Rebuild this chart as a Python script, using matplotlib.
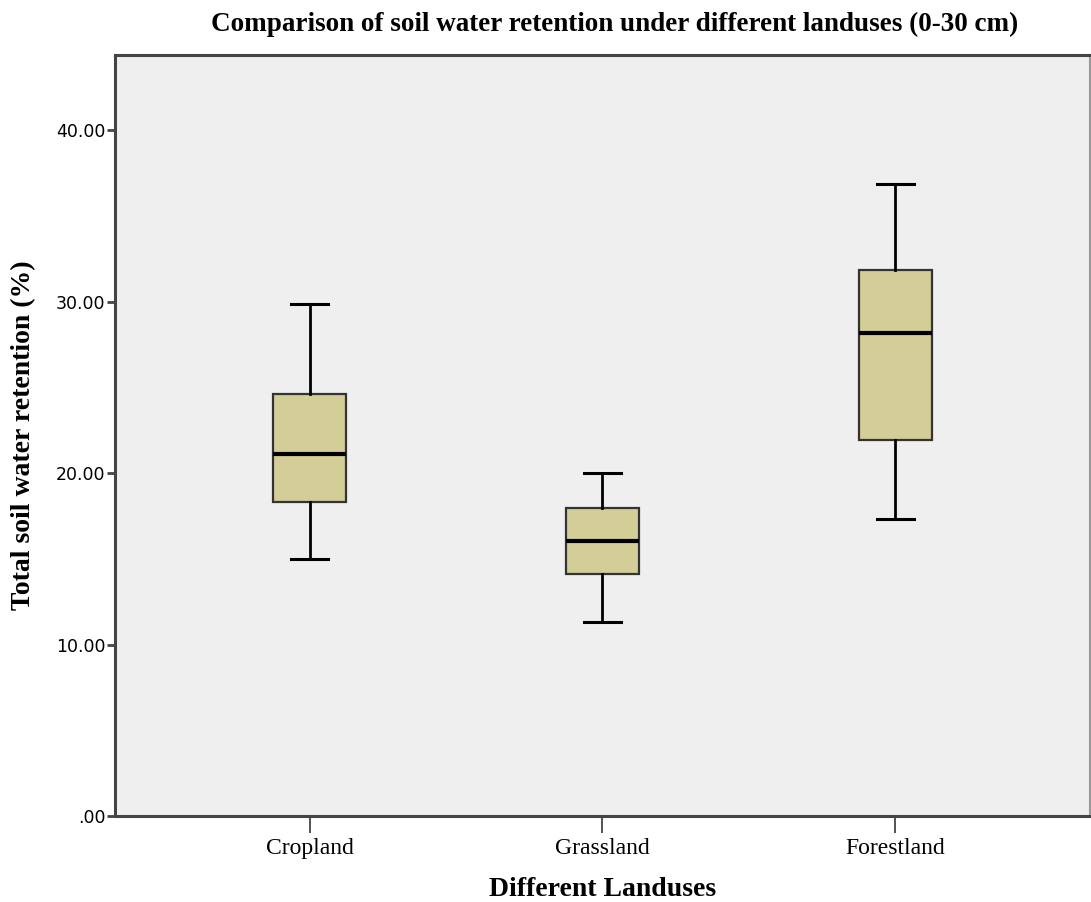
import matplotlib.pyplot as plt

# Box-plot summary values
landuses = ['Cropland', 'Grassland', 'Forestland']
whisker_low = [15.0, 11.35, 17.35]
q1 = [18.3, 14.15, 21.95]
median = [21.1, 16.05, 28.2]
q3 = [24.6, 17.95, 31.85]
whisker_high = [29.85, 20.0, 36.9]
y_ticks = [0, 10, 20, 30, 40]
y_tick_labels = ['.00', '10.00', '20.00', '30.00', '40.00']

serif = 'Liberation Serif'
sans = 'DejaVu Sans'

fig = plt.figure(figsize=(10.91, 9.02), dpi=100)
ax = fig.add_axes([0.1054, 0.0953, 0.8936, 0.8437])
ax.set_facecolor('#EFEFEF')

stats = []
for i, name in enumerate(landuses):
    stats.append({
        'label': name,
        'whislo': whisker_low[i],
        'q1': q1[i],
        'med': median[i],
        'q3': q3[i],
        'whishi': whisker_high[i],
        'fliers': [],
    })

ax.bxp(stats, positions=range(len(landuses)), widths=0.25, capwidths=0.125,
       patch_artist=True, showfliers=False,
       boxprops=dict(facecolor='#D3CE97', edgecolor='#333333', linewidth=1.6),
       medianprops=dict(color='black', linewidth=3),
       whiskerprops=dict(color='black', linewidth=2),
       capprops=dict(color='black', linewidth=2.2))

ax.set_xlim(-0.665, 2.665)
ax.set_ylim(0, 44.4)

ax.set_yticks(y_ticks)
ax.set_yticklabels(y_tick_labels, fontfamily=sans, fontsize=12.5)
ax.set_xticks(range(len(landuses)))
ax.set_xticklabels(landuses, fontfamily=serif, fontsize=17)
ax.tick_params(axis='y', direction='out', length=6, width=2, color='#444444', pad=1)
ax.tick_params(axis='x', direction='out', length=12, width=1.3, color='#444444', pad=4)

for side in ['left', 'bottom', 'top']:
    ax.spines[side].set_color('#444444')
    ax.spines[side].set_linewidth(2.2)
ax.spines['right'].set_color('#999999')
ax.spines['right'].set_linewidth(1.5)

ax.set_ylabel('Total soil water retention (%)', fontfamily=serif, fontsize=20,
              fontweight='bold', labelpad=14)
ax.set_xlabel('Different Landuses', fontfamily=serif, fontsize=20,
              fontweight='bold', labelpad=13)
fig.text(0.563, 0.973, 'Comparison of soil water retention under different landuses (0-30 cm)',
         ha='center', va='center', fontfamily=serif, fontsize=19.5, fontweight='bold')

fig.savefig('out.png', dpi=100)
